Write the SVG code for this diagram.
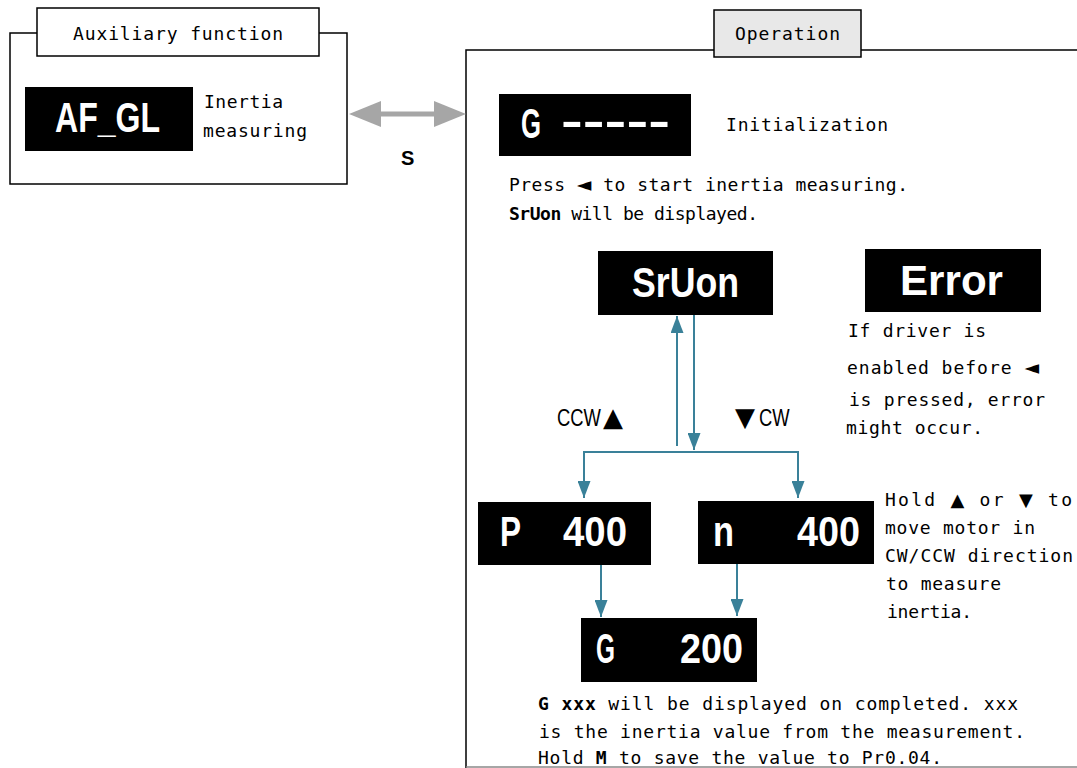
<svg xmlns="http://www.w3.org/2000/svg" width="1077" height="768" viewBox="0 0 1077 768">
<style>
.frame{fill:none;stroke:#000;stroke-width:1.5}
.tab{stroke:#000;stroke-width:1.5}
.t{font-family:"DejaVu Sans Mono","Liberation Mono",monospace;font-size:18px;fill:#000}
.b{font-weight:bold}
.big{font-family:"Liberation Sans","DejaVu Sans",sans-serif;font-size:42px;font-weight:bold;fill:#fff}
.lbl{font-family:"Liberation Sans","DejaVu Sans",sans-serif;font-size:23px;fill:#000}
.disp{fill:#000}
.con{stroke:#3a8199;stroke-width:2;fill:none}
.tri{font-family:"DejaVu Sans",sans-serif}
</style>
<defs>
<marker id="ahd" viewBox="0 0 17 13" refX="17" refY="6.5" markerWidth="17" markerHeight="13" markerUnits="userSpaceOnUse" orient="auto">
<path d="M0,0 L17,6.5 L0,13 Z" fill="#3a8199"/>
</marker>
</defs>

<g id="aux-frame">
<rect class="frame" x="10" y="33" width="337" height="151"/>
<rect class="tab" x="37" y="8" width="282" height="48" fill="#fff"/>
<text class="t" x="73" y="40" textLength="210" lengthAdjust="spacing">Auxiliary function</text>
</g>

<g id="node-afgl">
<rect class="disp" x="25" y="87" width="168" height="64"/>
<text class="big" x="55" y="132" textLength="105" lengthAdjust="spacingAndGlyphs">AF_GL</text>
<text class="t" x="204" y="108" textLength="79" lengthAdjust="spacing">Inertia</text>
<text class="t" x="203" y="137" textLength="104" lengthAdjust="spacing">measuring</text>
</g>

<g id="op-frame">
<path class="frame" d="M466,768 L466,50 L1078,50"/>
<line x1="466" y1="767" x2="1077" y2="767" stroke="#888" stroke-width="1.5"/>
<rect class="tab" x="714" y="10" width="147" height="47" fill="#e8e8e8"/>
<text class="t" x="735" y="40" textLength="105" lengthAdjust="spacing">Operation</text>
</g>

<g id="node-g-init">
<rect class="disp" x="499" y="94" width="192" height="62"/>
<text class="big" x="521" y="138" textLength="20" lengthAdjust="spacingAndGlyphs">G</text>
<text class="big" x="561" y="136" textLength="109" lengthAdjust="spacingAndGlyphs">-----</text>
<text class="t" x="726" y="131" textLength="162" lengthAdjust="spacing">Initialization</text>
</g>

<g id="note-press">
<text class="t" x="509" y="191" textLength="399" lengthAdjust="spacing">Press <tspan class="tri" font-size="19">◄</tspan> to start inertia measuring.</text>
<text class="t" x="509" y="220" textLength="249" lengthAdjust="spacing"><tspan class="b">SrUon</tspan> will be displayed.</text>
</g>

<g id="node-sruon">
<rect class="disp" x="598" y="251" width="175" height="64"/>
<text class="big" x="632" y="297" textLength="107" lengthAdjust="spacingAndGlyphs">SrUon</text>
</g>

<g id="node-error">
<rect class="disp" x="865" y="249" width="176" height="63"/>
<text class="big" x="900" y="295" textLength="103" lengthAdjust="spacingAndGlyphs">Error</text>
<text class="t" x="848" y="337" textLength="138" lengthAdjust="spacing">If driver is</text>
<text class="t" x="847" y="374" textLength="192" lengthAdjust="spacing">enabled before <tspan class="tri" font-size="19">◄</tspan></text>
<text class="t" x="849" y="406" textLength="196" lengthAdjust="spacing">is pressed, error</text>
<text class="t" x="846" y="434" textLength="137" lengthAdjust="spacing">might occur.</text>
</g>

<g id="labels-dir">
<text class="lbl" transform="translate(557,426) scale(0.8,1)">CCW</text>
<text class="tri" x="603" y="426" font-size="26" fill="#000">▲</text>
<text class="tri" x="735" y="426" font-size="26" fill="#000">▼</text>
<text class="lbl" transform="translate(759,426) scale(0.8,1)">CW</text>
</g>

<g id="node-p400">
<rect class="disp" x="478" y="502" width="173" height="63"/>
<text class="big" x="500" y="546" textLength="21" lengthAdjust="spacingAndGlyphs">P</text>
<text class="big" x="563" y="546" textLength="64" lengthAdjust="spacingAndGlyphs">400</text>
</g>

<g id="node-n400">
<rect class="disp" x="698" y="501" width="176" height="63"/>
<text class="big" x="713" y="546" textLength="21" lengthAdjust="spacingAndGlyphs">n</text>
<text class="big" x="797" y="546" textLength="63" lengthAdjust="spacingAndGlyphs">400</text>
<text class="t" x="885" y="506" textLength="187" lengthAdjust="spacing">Hold <tspan class="tri" font-size="18">▲</tspan> or <tspan class="tri" font-size="18">▼</tspan> to</text>
<text class="t" x="885" y="534" textLength="150" lengthAdjust="spacing">move motor in</text>
<text class="t" x="885" y="562" textLength="188" lengthAdjust="spacing">CW/CCW direction</text>
<text class="t" x="886" y="590" textLength="115" lengthAdjust="spacing">to measure</text>
<text class="t" x="887" y="618" textLength="85" lengthAdjust="spacing">inertia.</text>
</g>

<g id="node-g200">
<rect class="disp" x="581" y="618" width="176" height="64"/>
<text class="big" x="596" y="663" textLength="19" lengthAdjust="spacingAndGlyphs">G</text>
<text class="big" x="680" y="663" textLength="63" lengthAdjust="spacingAndGlyphs">200</text>
</g>

<g id="note-result">
<text class="t" x="538" y="710" textLength="480" lengthAdjust="spacing"><tspan class="b">G xxx</tspan> will be displayed on completed. xxx</text>
<text class="t" x="539" y="738" textLength="486" lengthAdjust="spacing">is the inertia value from the measurement.</text>
<text class="t" x="538" y="764" textLength="404" lengthAdjust="spacing">Hold <tspan class="b">M</tspan> to save the value to Pr0.04.</text>
</g>

<g id="connectors">
<g id="conn-s">
<line x1="378" y1="114" x2="437" y2="114" stroke="#a6a6a6" stroke-width="5"/>
<path d="M349,114 L381,101 L381,127 Z" fill="#a6a6a6"/>
<path d="M466,114 L434,101 L434,127 Z" fill="#a6a6a6"/>
<text x="401" y="165" font-family="Liberation Sans,DejaVu Sans,sans-serif" font-size="20" font-weight="bold" fill="#000">S</text>
</g>
<line class="con" x1="677" y1="446" x2="677" y2="316" marker-end="url(#ahd)"/>
<line class="con" x1="694" y1="315" x2="694" y2="450" marker-end="url(#ahd)"/>
<path class="con" d="M584,498 L584,452 L798,452 L798,498"/>
<line class="con" x1="584" y1="470" x2="584" y2="498" marker-end="url(#ahd)"/>
<line class="con" x1="798" y1="470" x2="798" y2="498" marker-end="url(#ahd)"/>
<line class="con" x1="601" y1="565" x2="601" y2="617" marker-end="url(#ahd)"/>
<line class="con" x1="737" y1="564" x2="737" y2="616" marker-end="url(#ahd)"/>
</g>
</svg>
